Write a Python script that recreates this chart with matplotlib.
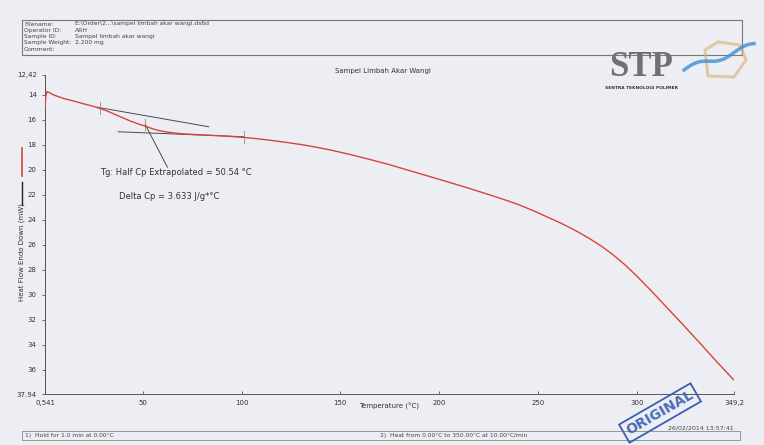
import numpy as np
import matplotlib
matplotlib.use("Agg")
import matplotlib.pyplot as plt
from matplotlib.lines import Line2D
from matplotlib.patches import Rectangle, Polygon

# --- DSC curve (temperature in °C, heat flow in mW)
temperature = [0.6, 0.9, 1.5, 2.5, 4.6, 10, 15, 20, 25, 28.5, 32, 36, 40, 44,
               48, 51.3, 55, 58, 62, 66, 70, 75, 80, 85, 90, 95, 101, 108,
               115, 122, 130, 138, 145, 155, 165, 175, 185, 196, 205, 215,
               225, 235, 240, 248, 255, 262, 270, 276, 282, 288, 294, 300,
               308, 316, 324, 333, 341, 349]
heat_flow = [15.0, 14.2, 13.75, 13.8, 14.0, 14.3, 14.5, 14.72, 14.93, 15.1,
             15.3, 15.58, 15.85, 16.12, 16.35, 16.52, 16.72, 16.86, 16.98,
             17.06, 17.12, 17.17, 17.21, 17.25, 17.29, 17.34, 17.41, 17.52,
             17.65, 17.8, 17.98, 18.2, 18.42, 18.78, 19.18, 19.6, 20.07,
             20.58, 21.0, 21.48, 21.98, 22.5, 22.78, 23.3, 23.8, 24.3, 24.95,
             25.5, 26.1, 26.8, 27.6, 28.5, 29.8, 31.15, 32.5, 34.05, 35.45, 36.8]

# tangent lines of the Tg analysis
upper_tangent_x = [27.0, 83.4]
upper_tangent_y = [15.0, 16.56]
lower_tangent_x = [37.6, 101.2]
lower_tangent_y = [16.96, 17.36]
marker_x = [28.5, 51.3, 101.2]
marker_y = [15.1, 16.4, 17.4]

y_ticks = [12.42, 14, 16, 18, 20, 22, 24, 26, 28, 30, 32, 34, 36, 37.94]
y_tick_labels = ["12,42", "14", "16", "18", "20", "22", "24", "26", "28", "30",
                 "32", "34", "36", "37.94"]
x_ticks = [0.541, 50, 100, 150, 200, 250, 300, 349.2]
x_tick_labels = ["0,541", "50", "100", "150", "200", "250", "300", "349,2"]

header_keys = ["Filename:", "Operator ID:", "Sample ID:", "Sample Weight:", "Comment:"]
header_vals = ["E:\\Order\\2...\\sampel limbah akar wangi.ds6d", "ARH",
               "Sampel limbah akar wangi", "2.200 mg", ""]

W, H = 764, 445
paper = "#eceef3"


def px(x, y):
    return x / W, 1 - y / H


fig = plt.figure(figsize=(W / 100, H / 100), dpi=100, facecolor=paper)
ax = fig.add_axes([45 / W, 1 - 394 / H, (734 - 45) / W, (394 - 75) / H])
ax.set_facecolor(paper)

ax.plot(temperature, heat_flow, color="#d8443c", lw=1.0, zorder=3)
ax.plot(upper_tangent_x, upper_tangent_y, color="#4a4a4a", lw=0.7, zorder=2)
ax.plot(lower_tangent_x, lower_tangent_y, color="#4a4a4a", lw=0.7, zorder=2)
for mx, my in zip(marker_x, marker_y):
    ax.plot([mx, mx], [my - 0.5, my + 0.45], color="#9a9a9a", lw=0.7, zorder=2)

# Tg annotation
ax.plot([51.3, 62.5], [16.4, 19.8], color="#333333", lw=0.6)
ax.text(28.5, 20.25, "Tg: Half Cp Extrapolated = 50.54 °C", fontsize=6,
        color="#333333", va="center", ha="left")
ax.text(38.2, 22.1, "Delta Cp = 3.633 J/g*°C", fontsize=6,
        color="#333333", va="center", ha="left")

ax.set_xlim(0.541, 349.2)
ax.set_ylim(37.94, 12.42)
ax.set_yticks(y_ticks)
ax.set_yticklabels(y_tick_labels)
ax.set_xticks(x_ticks)
ax.set_xticklabels(x_tick_labels)
ax.tick_params(axis="both", labelsize=5, colors="#333333", length=2.5, width=0.5)
ax.tick_params(axis="x", direction="in", pad=4)
for side in ["top", "right"]:
    ax.spines[side].set_visible(False)
for side in ["left", "bottom"]:
    ax.spines[side].set_color("#555555")
    ax.spines[side].set_linewidth(0.7)

# --- Title, axis labels
fig.text(*px(383, 71), "Sampel Limbah Akar Wangi", fontsize=5, color="#333333",
         ha="center", va="center")
fig.text(*px(389, 406), "Temperature (°C)", fontsize=5, color="#333333",
         ha="center", va="center")
fig.text(*px(22, 252), "Heat Flow Endo Down (mW)", fontsize=5, color="#333333",
         rotation=90, ha="center", va="center")
fig.add_artist(Line2D([22 / W, 22 / W], [1 - 148 / H, 1 - 176 / H],
                      color="#d8443c", lw=1.2))
fig.add_artist(Line2D([22 / W, 22 / W], [1 - 182 / H, 1 - 205 / H],
                      color="#222222", lw=1.0))

# --- Header box
fig.add_artist(Rectangle(px(22, 55), 720 / W, 35 / H, fill=False,
                         ec="#777777", lw=0.8))
for i, (k, v) in enumerate(zip(header_keys, header_vals)):
    y = 24 + i * 6.3
    fig.text(*px(24, y), k, fontsize=4.3, color="#444444", va="center")
    fig.text(*px(75, y), v, fontsize=4.3, color="#444444", va="center")

# --- Footer
fig.add_artist(Rectangle(px(22, 440), 718 / W, 9 / H, fill=False,
                         ec="#888888", lw=0.6))
fig.text(*px(25, 435), "1)  Hold for 1.0 min at 0.00°C", fontsize=4.3,
         color="#444444", va="center")
fig.text(*px(380, 435), "2)  Heat from 0.00°C to 350.00°C at 10.00°C/min",
         fontsize=4.3, color="#444444", va="center")
fig.text(*px(668, 428), "26/02/2014 13:57:41", fontsize=4.5, color="#444444",
         va="center")

# --- "ORIGINAL" stamp
fig.text(*px(660, 413), "ORIGINAL", fontsize=10, color="#3a5fb0", rotation=30,
         ha="center", va="center", fontweight="bold", alpha=0.9,
         bbox=dict(boxstyle="square,pad=0.25", fc="none", ec="#3a5fb0", lw=1.3))

# --- STP logo
fig.add_artist(Polygon([px(705, 50), px(718, 42), px(740, 45), px(746, 60),
                        px(734, 77), px(708, 76)], closed=True, fill=False,
                       ec="#d8b070", lw=2.2, alpha=0.6))
wx = np.linspace(684, 754, 40)
wy = 70 - (wx - 684) * 0.35 - 3 * np.sin((wx - 684) / 8)
fig.add_artist(Line2D(wx / W, 1 - wy / H, color="#3e8fd8", lw=2.5, alpha=0.8))
fig.text(*px(641, 67), "STP", fontsize=25, family="Liberation Serif",
         fontweight="bold", color="#707070", ha="center", va="center")
fig.text(*px(605, 88), "SENTRA TEKNOLOGI POLIMER", fontsize=3.2,
         fontweight="bold", color="#333333", va="center")

fig.savefig("out.png", dpi=100, facecolor=paper)
